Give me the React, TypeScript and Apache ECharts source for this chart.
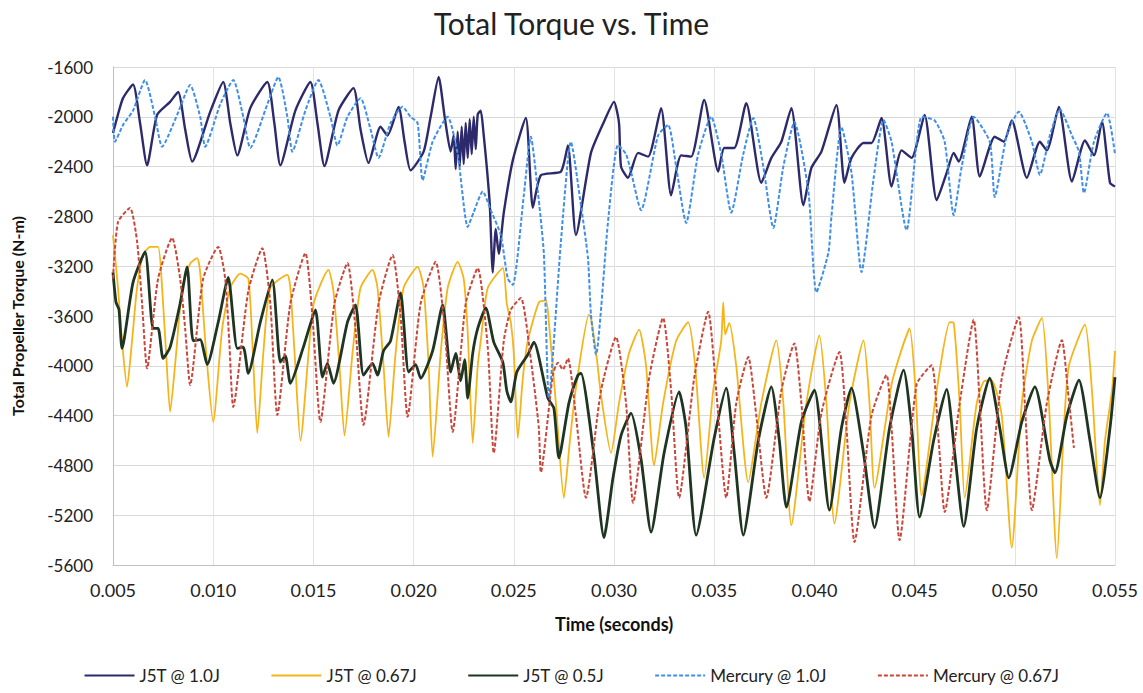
import React, { useEffect, useRef } from "react";
import * as echarts from "echarts";

const xTicks = [0.005, 0.055, 0.005]; // min, max, interval
const yTicks = [-5600, -1600, 400];
const seriesNames = ["J5T @ 1.0J", "J5T @ 0.67J", "J5T @ 0.5J", "Mercury @ 1.0J", "Mercury @ 0.67J"];

const j5t10: number[][] = [
  [0.005, -2130], [0.00525, -1980], [0.0055, -1850], [0.006, -1740], [0.00635, -2050], [0.0067, -2390],
  [0.0072, -1985], [0.00785, -1880], [0.00825, -1800], [0.0086, -2100], [0.00895, -2360],
  [0.00985, -1960], [0.0105, -1720], [0.01085, -2050], [0.0112, -2310], [0.01185, -1930],
  [0.0127, -1720], [0.01305, -2050], [0.01335, -2390], [0.0141, -1950], [0.01485, -1720],
  [0.0152, -2050], [0.01555, -2395], [0.01625, -1950], [0.017, -1770], [0.01735, -2100],
  [0.01775, -2370], [0.01835, -2080], [0.0187, -2150], [0.01925, -1920], [0.01955, -2200],
  [0.01985, -2430], [0.0205, -2280], [0.02085, -2000], [0.02125, -1680], [0.02155, -2000],
  [0.02185, -2280], [0.022, -2150], [0.0221, -2420], [0.0222, -2120], [0.0223, -2400],
  [0.0224, -2080], [0.0225, -2380], [0.0226, -2050], [0.0227, -2330], [0.0228, -2020],
  [0.0229, -2300], [0.023, -2000], [0.0231, -2260], [0.0232, -1980], [0.02335, -1950],
  [0.0235, -2150], [0.02365, -2400], [0.0238, -2700], [0.02395, -3250],
  [0.0241, -2900], [0.02425, -3100], [0.0245, -2770], [0.02495, -2350], [0.0256, -2010],
  [0.02595, -2730], [0.02635, -2470], [0.02735, -2440], [0.0277, -2230], [0.0281, -2950],
  [0.02885, -2290], [0.0295, -2040], [0.03, -1880], [0.03025, -2050], [0.03035, -2400],
  [0.0307, -2490], [0.0312, -2290], [0.0317, -2320], [0.03235, -1930], [0.03285, -2630],
  [0.03335, -2310], [0.03385, -2320], [0.0345, -1865], [0.0352, -2440], [0.0355, -2250],
  [0.036, -2250], [0.0366, -1890], [0.03735, -2530], [0.03785, -2330], [0.03835, -2200],
  [0.03885, -1930], [0.03945, -2710], [0.03985, -2410], [0.04035, -2280], [0.0411, -1905],
  [0.0415, -2530], [0.04185, -2330], [0.04245, -2210], [0.04285, -2210], [0.04335, -2010],
  [0.04385, -2560], [0.04435, -2270], [0.04485, -2330], [0.0455, -1985], [0.0461, -2670],
  [0.0466, -2450], [0.04695, -2290], [0.0472, -2360], [0.04785, -2000], [0.04825, -2480],
  [0.049, -2160], [0.04945, -2200], [0.04985, -2030], [0.0506, -2490], [0.05125, -2200],
  [0.0516, -2270], [0.0522, -1920], [0.05285, -2520], [0.0535, -2190], [0.05395, -2310],
  [0.05435, -2040], [0.05475, -2530], [0.055, -2560],
];

const j5t067: number[][] = [
  [0.005, -2950], [0.00525, -3375], [0.00545, -3800], [0.0057, -4170], [0.00595, -3800],
  [0.0062, -3375], [0.0065, -3110], [0.00685, -3045], [0.00725, -3045], [0.00745, -3375],
  [0.00765, -3900], [0.00785, -4370], [0.00815, -3900], [0.00845, -3375], [0.00885, -3180],
  [0.0092, -3135], [0.00935, -3250], [0.00965, -3900], [0.01, -4450], [0.01045, -3700],
  [0.01085, -3375], [0.01135, -3260], [0.01175, -3300], [0.01195, -3800], [0.0122, -4540],
  [0.0125, -3900], [0.01285, -3375], [0.0137, -3270], [0.01385, -3375], [0.0141, -4000],
  [0.01435, -4600], [0.015, -3510], [0.01575, -3230], [0.016, -3400], [0.0163, -4000],
  [0.01655, -4560], [0.01695, -3900], [0.01735, -3375], [0.01795, -3230], [0.0182, -3375],
  [0.0185, -4000], [0.01875, -4570], [0.0191, -3900], [0.0195, -3375], [0.0202, -3205],
  [0.0205, -3375], [0.02075, -4000], [0.02095, -4730], [0.02135, -3900], [0.0217, -3375],
  [0.0222, -3165], [0.0225, -3300], [0.0227, -3730], [0.02295, -4620], [0.0232, -4000],
  [0.02335, -3800], [0.0237, -3375], [0.02445, -3215], [0.02465, -3500], [0.02485, -3650],
  [0.025, -3900], [0.0252, -4580], [0.02545, -4100], [0.0257, -3800], [0.02625, -3490],
  [0.0266, -3475], [0.02675, -3650], [0.0271, -4300], [0.0275, -5060], [0.0278, -4600],
  [0.0281, -4180], [0.02875, -3590], [0.02885, -3615], [0.02915, -3950], [0.02935, -4235],
  [0.02985, -4700], [0.03025, -4300], [0.03075, -3900], [0.03125, -3710], [0.0316, -4000],
  [0.032, -4800], [0.03245, -4300], [0.0331, -3800], [0.0337, -3650], [0.03405, -4000],
  [0.0345, -4900], [0.03495, -4200], [0.03535, -3800], [0.03545, -3490], [0.03555, -3750],
  [0.03575, -3655], [0.0361, -4000], [0.0367, -4935], [0.03735, -4300], [0.0381, -3795],
  [0.03845, -4300], [0.03885, -5280], [0.0396, -4300], [0.04025, -3755], [0.0406, -4300],
  [0.041, -5265], [0.04175, -4300], [0.04245, -3795], [0.04275, -4300], [0.043, -4980],
  [0.04385, -4150], [0.04435, -3870], [0.04475, -3700], [0.04505, -4200], [0.04535, -5040],
  [0.0461, -4200], [0.04675, -3650], [0.04695, -3655], [0.04725, -4300], [0.0475, -5060],
  [0.0481, -4300], [0.0485, -4120], [0.04885, -4120], [0.04935, -4400], [0.04985, -5460],
  [0.05035, -4300], [0.05085, -3800], [0.05135, -3615], [0.0517, -4300], [0.0521, -5545],
  [0.05245, -4500], [0.0527, -4000], [0.0535, -3670], [0.05385, -4200], [0.05425, -5120],
  [0.0545, -4600], [0.05485, -4200], [0.055, -3880],
];

const j5t05: number[][] = [
  [0.005, -3250], [0.00515, -3490], [0.0053, -3550], [0.00545, -3860], [0.006, -3330],
  [0.0066, -3085], [0.007, -3700], [0.00725, -3700], [0.0075, -3940], [0.00785, -3850],
  [0.00835, -3500], [0.0087, -3205], [0.009, -3800], [0.00935, -3790], [0.0097, -3990],
  [0.01025, -3650], [0.01075, -3290], [0.0112, -3860], [0.0115, -3850], [0.01175, -4060],
  [0.01235, -3650], [0.01295, -3310], [0.01335, -3970], [0.0136, -3920], [0.01385, -4140],
  [0.0145, -3850], [0.0151, -3550], [0.01545, -4090], [0.0157, -3980], [0.016, -4140],
  [0.0167, -3650], [0.0171, -3510], [0.0175, -4075], [0.01795, -3980], [0.0182, -4075],
  [0.0185, -3880], [0.01885, -3800], [0.01935, -3415], [0.01975, -4050], [0.0201, -3990],
  [0.02035, -4100], [0.02095, -3880], [0.02145, -3510], [0.02185, -4050], [0.0221, -3900],
  [0.02235, -4120], [0.02255, -3950], [0.0227, -4260], [0.02295, -3900], [0.0232, -3700],
  [0.0236, -3535], [0.024, -3810], [0.02445, -3970], [0.02465, -4200], [0.02485, -4290],
  [0.02515, -4050], [0.0257, -3910], [0.026, -3810], [0.0267, -4260], [0.027, -4340],
  [0.02725, -4740], [0.02775, -4300], [0.0282, -4075], [0.02835, -4060], [0.029, -4720],
  [0.0295, -5380], [0.02995, -4900], [0.03035, -4560], [0.03085, -4380], [0.03135, -4750],
  [0.03185, -5335], [0.0325, -4700], [0.03325, -4210], [0.0336, -4500], [0.0341, -5360],
  [0.035, -4580], [0.0356, -4180], [0.036, -4700], [0.03645, -5360], [0.0372, -4600],
  [0.03785, -4170], [0.03825, -4600], [0.0386, -5135], [0.03935, -4450], [0.04, -4195],
  [0.04075, -5160], [0.04135, -4500], [0.04185, -4180], [0.04245, -4700], [0.043, -5300],
  [0.04375, -4500], [0.04445, -4035], [0.04485, -4500], [0.04525, -5215], [0.04595, -4600],
  [0.0466, -4190], [0.047, -4700], [0.04745, -5290], [0.0481, -4500], [0.04875, -4100],
  [0.04925, -4500], [0.0497, -4900], [0.05035, -4450], [0.051, -4170], [0.05175, -4760],
  [0.052, -4860], [0.0526, -4400], [0.0532, -4115], [0.05375, -4600], [0.05425, -5060],
  [0.05475, -4500], [0.055, -4090],
];

const merc10: number[][] = [
  [0.005, -2000], [0.0051, -2200], [0.0055, -2065], [0.006, -1950], [0.0066, -1705],
  [0.0071, -2000], [0.00745, -2240], [0.0082, -1985], [0.00885, -1745], [0.00935, -2000],
  [0.0096, -2240], [0.01035, -1900], [0.011, -1705], [0.0115, -2000], [0.01185, -2250],
  [0.0127, -1900], [0.01325, -1680], [0.0137, -2000], [0.01395, -2280], [0.0146, -1950],
  [0.01525, -1705], [0.01585, -2000], [0.0162, -2230], [0.0167, -2000], [0.01735, -1850],
  [0.01785, -2100], [0.01825, -2330], [0.01885, -2050], [0.01945, -1920], [0.01985, -2000],
  [0.0202, -2050], [0.02045, -2510], [0.02095, -2200], [0.0217, -2000], [0.0222, -2300],
  [0.0227, -2885], [0.023, -2765], [0.02345, -2600], [0.02385, -2750], [0.02435, -2950],
  [0.0247, -3300], [0.02495, -3350], [0.0255, -2630], [0.02585, -2160], [0.0262, -2600],
  [0.0265, -3100], [0.02675, -4260], [0.02735, -3005], [0.02785, -2200], [0.02835, -2710],
  [0.0287, -3135], [0.02885, -3590], [0.0291, -3910], [0.0297, -2845], [0.0302, -2226],
  [0.0306, -2300], [0.03085, -2443], [0.03135, -2750], [0.0322, -2150], [0.0327, -2065],
  [0.0331, -2400], [0.0336, -2853], [0.0342, -2300], [0.03485, -2000], [0.03535, -2300],
  [0.03585, -2770], [0.03645, -2300], [0.03695, -2010], [0.03745, -2400], [0.03795, -2893],
  [0.03845, -2400], [0.039, -2042], [0.0397, -2600], [0.0401, -3410], [0.0407, -3090],
  [0.04085, -2800], [0.04135, -2082], [0.04185, -2450], [0.04235, -3247], [0.04295, -2500],
  [0.04345, -2026], [0.04385, -2200], [0.0446, -2910], [0.04535, -2000], [0.046, -2030],
  [0.0465, -2200], [0.04695, -2790], [0.04735, -2400], [0.04795, -2000], [0.04875, -2200],
  [0.049, -2644], [0.0496, -2150], [0.0502, -1960], [0.05085, -2200], [0.05125, -2467],
  [0.05175, -2150], [0.05225, -1940], [0.05285, -2150], [0.0532, -2280], [0.05345, -2612],
  [0.05395, -2200], [0.0546, -1970], [0.055, -2300],
];

const merc067: number[][] = [
  [0.005, -3300], [0.00525, -2845], [0.00585, -2732], [0.0062, -3000], [0.00645, -3500],
  [0.0067, -4020], [0.00725, -3300], [0.00795, -2973], [0.00835, -3300], [0.0086, -3700],
  [0.00885, -4155], [0.0095, -3300], [0.01025, -3045], [0.0106, -3300], [0.0108, -3800],
  [0.011, -4330], [0.01175, -3400], [0.01245, -3055], [0.01285, -3500], [0.0132, -4395],
  [0.01385, -3500], [0.0146, -3095], [0.01495, -3600], [0.01535, -4450], [0.01605, -3500],
  [0.0167, -3175], [0.0171, -3700], [0.0175, -4475], [0.01825, -3500], [0.01895, -3110],
  [0.01935, -3600], [0.0197, -4410], [0.02035, -3500], [0.0211, -3165], [0.02155, -3700],
  [0.02195, -4530], [0.0226, -3500], [0.0232, -3215], [0.0237, -3850], [0.024, -4700],
  [0.0245, -3800], [0.02485, -3550], [0.02535, -3455], [0.02585, -3950], [0.02625, -4500],
  [0.02635, -4855], [0.02695, -4070], [0.0272, -3975], [0.02745, -4030], [0.0277, -3940],
  [0.0281, -4400], [0.0286, -5060], [0.02935, -4200], [0.0301, -3770], [0.0306, -4300],
  [0.03095, -5100], [0.03175, -4100], [0.03245, -3615], [0.03285, -4200], [0.03325, -5060],
  [0.034, -4100], [0.0347, -3565], [0.0351, -4200], [0.0356, -5060], [0.0361, -4300],
  [0.0367, -3930], [0.0371, -4400], [0.0376, -5060], [0.03835, -4200], [0.039, -3820],
  [0.03935, -4300], [0.03975, -5090], [0.04035, -4380], [0.04125, -3890], [0.0416, -4500],
  [0.042, -5415], [0.04285, -4400], [0.0436, -4075], [0.04385, -4500], [0.04425, -5400],
  [0.0451, -4150], [0.04585, -3995], [0.0462, -4600], [0.0465, -5175], [0.04725, -4300],
  [0.04795, -3630], [0.04825, -4300], [0.0486, -5160], [0.04935, -4100], [0.0502, -3610],
  [0.0505, -4300], [0.05085, -5160], [0.0516, -4300], [0.05235, -3795], [0.05265, -4200],
  [0.05295, -4660],
];

const seriesData = [j5t10, j5t067, j5t05, merc10, merc067];
const colors = ["#2c2a6b", "#f5b41a", "#1f3521", "#3f8fe6", "#c9463b"];
const widths = [2.4, 1.8, 2.8, 2, 2];
const dashed = [false, false, false, true, true];

export default function App() {
  const ref = useRef<HTMLDivElement>(null);
  useEffect(() => {
    if (!ref.current) return;
    const chart = echarts.init(ref.current, undefined, { renderer: "svg" });
    const font = "Lato, 'Open Sans', sans-serif";
    chart.setOption({
      animation: false,
      backgroundColor: "#ffffff",
      textStyle: { fontFamily: font },
      title: {
        text: "Total Torque vs. Time",
        left: "center",
        top: 3,
        textStyle: { fontFamily: font, fontSize: 30, fontWeight: "normal", color: "#222" },
      },
      legend: {
        bottom: 4,
        left: "center",
        itemWidth: 50,
        itemHeight: 10,
        itemGap: 50,
        itemStyle: { opacity: 0 },
        textStyle: { fontFamily: font, fontSize: 17, color: "#222" },
        data: seriesNames,
      },
      grid: { left: 113, right: 28, top: 67, bottom: 128, containLabel: false },
      xAxis: {
        type: "value",
        min: xTicks[0],
        max: xTicks[1],
        interval: xTicks[2],
        name: "Time (seconds)",
        nameLocation: "middle",
        nameGap: 50,
        nameTextStyle: { fontFamily: font, fontSize: 18, fontWeight: "bold", color: "#111" },
        axisLine: { show: true, lineStyle: { color: "#bfbfbf" } },
        axisTick: { show: false },
        axisLabel: {
          fontFamily: font,
          fontSize: 18,
          color: "#222",
          margin: 16,
          formatter: (v: number) => v.toFixed(3),
        },
        splitLine: { show: true, lineStyle: { color: "#e3e3e3" } },
      },
      yAxis: {
        type: "value",
        min: yTicks[0],
        max: yTicks[1],
        interval: yTicks[2],
        name: "Total Propeller Torque (N-m)",
        nameLocation: "middle",
        nameGap: 88,
        nameTextStyle: { fontFamily: font, fontSize: 16, fontWeight: "bold", color: "#111" },
        axisLine: { show: true, lineStyle: { color: "#bfbfbf" } },
        axisTick: { show: false },
        axisLabel: {
          fontFamily: font,
          fontSize: 17,
          color: "#222",
          margin: 20,
          formatter: (v: number) => String(Math.round(v)),
        },
        splitLine: { show: true, lineStyle: { color: "#d9d9d9" } },
      },
      series: seriesNames.map((name, i) => ({
        name,
        type: "line",
        data: seriesData[i],
        showSymbol: false,
        symbol: "none",
        smooth: 0.2,
        z: i >= 3 ? 3 : 2,
        color: colors[i],
        lineStyle: { color: colors[i], width: widths[i], type: dashed[i] ? [4, 2] : "solid" },
      })),
    });
    return () => chart.dispose();
  }, []);
  return (
    <div
      ref={ref}
      style={{ position: "absolute", left: 0, top: 0, width: 1143, height: 693 }}
    />
  );
}
